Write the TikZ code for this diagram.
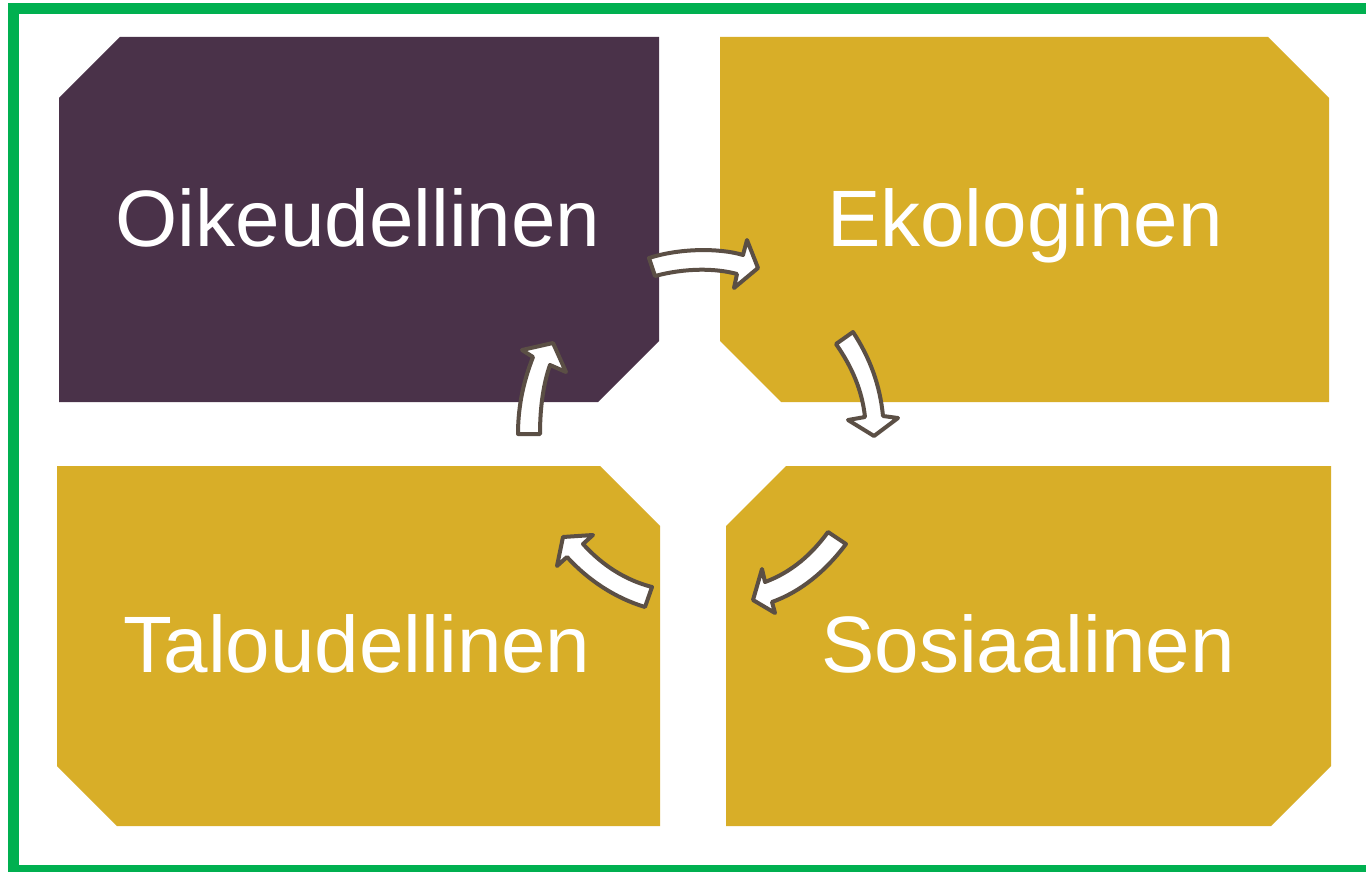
\documentclass[tikz,border=0pt]{standalone}
\usepackage{fontspec}
\setmainfont{Liberation Sans}
\definecolor{plum}{HTML}{4A3249}
\definecolor{gold}{HTML}{D8AE28}
\definecolor{frame}{HTML}{00B050}
\definecolor{arrowline}{HTML}{5B4F45}
\begin{document}
\begin{tikzpicture}[x=1pt,y=-1pt,
  label/.style={text=white,font=\fontsize{80}{80}\selectfont,inner sep=0pt,anchor=base},
  blockarrow/.style={fill=white,draw=arrowline,line width=4pt,line join=round}]
\useasboundingbox (0,0) rectangle (1366,872);
\fill[white] (0,0) rectangle (1366,872);
% frame
\draw[frame,line width=11pt,line join=miter] (1370,9) -- (13,9) -- (13,870) -- (1370,870);
% boxes
\fill[plum] (59,98) -- (120,37) -- (659,37) -- (659,341) -- (598,402) -- (59,402) -- cycle;
\fill[gold] (720,37) -- (1268,37) -- (1329,98) -- (1329,402) -- (781,402) -- (720,341) -- cycle;
\fill[gold] (57,466) -- (600,466) -- (660,526) -- (660,826) -- (117,826) -- (57,766) -- cycle;
\fill[gold] (786,466) -- (1331,466) -- (1331,766) -- (1271,826) -- (726,826) -- (726,526) -- cycle;
% labels
\node[label] (oik) at (358,246) {Oikeudellinen};
\node[label] (eko) at (1025,246) {Ekologinen};
\node[label] (tal) at (357,672) {Taloudellinen};
\node[label] (sos) at (1028,672) {Sosiaalinen};
% arrows
\draw[blockarrow] (649,258) .. controls (680,248) and (720,248) .. (743,255) -- (747,240) -- (758,268) -- (734,288) -- (737,274) .. controls (715,268) and (685,268) .. (655,276) -- cycle;
\draw[blockarrow] (836,344) -- (853,332) .. controls (870,358) and (880,385) .. (883,416) -- (898,418) -- (874,436) -- (848,420) -- (865,417) .. controls (862,390) and (852,367) .. (836,344) -- cycle;
\draw[blockarrow] (828,532) -- (846,544) .. controls (825,572) and (800,592) .. (772,602) -- (775,613) -- (753,600) -- (762,569) -- (765,582) .. controls (792,572) and (812,554) .. (828,532) -- cycle;
\draw[blockarrow] (652,587) -- (645,607) .. controls (615,598) and (588,580) .. (567,557) -- (557,566) -- (563,537) -- (593,535) -- (583,544) .. controls (602,565) and (625,580) .. (652,587) -- cycle;
\draw[blockarrow] (518,434) -- (540,434) .. controls (540,405) and (544,382) .. (550,365) -- (566,372) -- (553,343) -- (522,350) -- (533,357) .. controls (524,380) and (518,405) .. (518,434) -- cycle;
\end{tikzpicture}
\end{document}
